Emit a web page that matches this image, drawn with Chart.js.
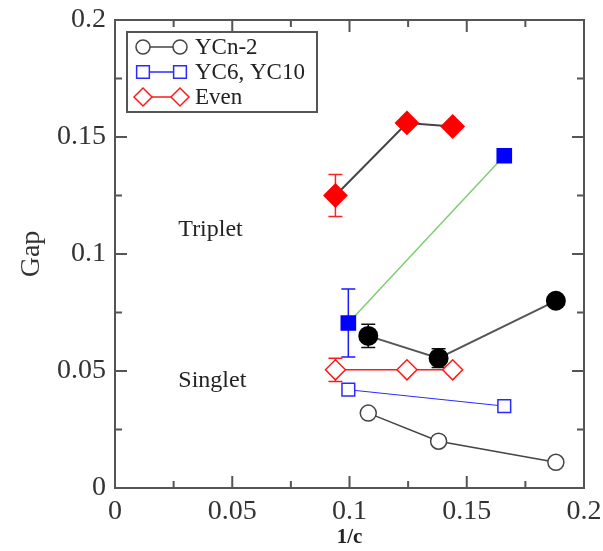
<!DOCTYPE html>
<html>
<head>
<meta charset="utf-8">
<script src="https://cdn.jsdelivr.net/npm/chart.js@4"></script>
<style>
  html, body { margin: 0; padding: 0; background: #fff; }
  #wrap { width: 603px; height: 551px; }
</style>
</head>
<body>
<div id="wrap"><canvas id="gapChart" width="603" height="551"></canvas></div>
<script>
// --- data
const xTicks = [0, 0.05, 0.1, 0.15, 0.2];
const yTicks = [0, 0.05, 0.1, 0.15, 0.2];

// YCn-2 : singlet (open) and triplet (filled)
const ycnX = [0.108, 0.138, 0.188];
const ycnSinglet = [0.032, 0.020, 0.011];
const ycnTriplet = [0.065, 0.0555, 0.080];
const ycnTripletErr = [0.005, 0.004, 0.002];

// YC6, YC10
const yc6X = [0.0995, 0.166];
const yc6Singlet = [0.042, 0.035];
const yc6Triplet = [0.0705, 0.142];
const yc6TripletErr = [0.0145, 0];

// Even
const evenX = [0.094, 0.1245, 0.144];
const evenSinglet = [0.0505, 0.0505, 0.0505];
const evenSingletErr = [0.005, 0, 0];
const evenTriplet = [0.125, 0.156, 0.1545];
const evenTripletErr = [0.009, 0, 0];

const legendLabels = ['YCn-2', 'YC6, YC10', 'Even'];

const pts = (xs, ys) => xs.map((x, i) => ({x: x, y: ys[i]}));
const serif = '"Liberation Serif", "DejaVu Serif", serif';
const textColor = '#333';

// error bars, frame with inward ticks, labels and the legend box
const decor = {
    id: 'decor',
    beforeDatasetsDraw(chart) {
        const ctx = chart.ctx;
        const ys = chart.scales.y;
        chart.data.datasets.forEach((ds, i) => {
            if (!ds.err) return;
            const meta = chart.getDatasetMeta(i);
            ctx.save();
            ctx.strokeStyle = ds.errColor || ds.borderColor;
            ctx.lineWidth = 1.5;
            meta.data.forEach((pt, j) => {
                const e = ds.err[j];
                if (!e) return;
                const v = ds.data[j].y;
                const top = ys.getPixelForValue(v + e);
                const bot = ys.getPixelForValue(v - e);
                ctx.beginPath();
                ctx.moveTo(pt.x, top); ctx.lineTo(pt.x, bot);
                ctx.moveTo(pt.x - 7, top); ctx.lineTo(pt.x + 7, top);
                ctx.moveTo(pt.x - 7, bot); ctx.lineTo(pt.x + 7, bot);
                ctx.stroke();
            });
            ctx.restore();
        });
    },
    afterDraw(chart) {
        const ctx = chart.ctx;
        const {left, right, top, bottom} = chart.chartArea;
        const xs = chart.scales.x, ys = chart.scales.y;
        ctx.save();
        ctx.strokeStyle = '#555';
        ctx.lineWidth = 2;
        ctx.strokeRect(left, top, right - left, bottom - top);
        ctx.beginPath();
        for (let v = 0.025; v < 0.2; v += 0.025) {
            const len = Math.abs((v / 0.05) - Math.round(v / 0.05)) < 1e-6 ? 12 : 7;
            const px = xs.getPixelForValue(v);
            ctx.moveTo(px, bottom); ctx.lineTo(px, bottom - len);
            ctx.moveTo(px, top); ctx.lineTo(px, top + len);
            const py = ys.getPixelForValue(v);
            ctx.moveTo(left, py); ctx.lineTo(left + len, py);
            ctx.moveTo(right, py); ctx.lineTo(right - len, py);
        }
        ctx.stroke();

        // region labels
        ctx.fillStyle = '#222';
        ctx.font = '24px ' + serif;
        ctx.textBaseline = 'middle';
        ctx.textAlign = 'left';
        ctx.fillText('Triplet', xs.getPixelForValue(0.027), ys.getPixelForValue(0.1105));
        ctx.fillText('Singlet', xs.getPixelForValue(0.027), ys.getPixelForValue(0.046));

        // legend box
        const bx = 127, by = 32, bw = 190, bh = 80;
        ctx.fillStyle = '#fff';
        ctx.fillRect(bx, by, bw, bh);
        ctx.strokeStyle = '#555';
        ctx.lineWidth = 2;
        ctx.strokeRect(bx, by, bw, bh);
        const legendSets = chart.data.datasets.filter(d => d.inLegend);
        legendSets.forEach((ds, i) => {
            const y = 47 + i * 25;
            ctx.strokeStyle = ds.borderColor;
            ctx.lineWidth = 1.5;
            ctx.beginPath();
            ctx.moveTo(143, y); ctx.lineTo(180, y);
            ctx.stroke();
            [143, 180].forEach(x => {
                ctx.fillStyle = '#fff';
                ctx.lineWidth = 1.5;
                Chart.helpers.drawPoint(ctx, {
                    pointStyle: ds.pointStyle, radius: ds.legendRadius,
                    rotation: 0, borderWidth: 1.5
                }, x, y);
            });
            ctx.fillStyle = '#222';
            ctx.font = '23px ' + serif;
            ctx.textAlign = 'left';
            ctx.textBaseline = 'middle';
            ctx.fillText(ds.label, 195, y + 1);
        });
        ctx.restore();
    }
};

new Chart(document.getElementById('gapChart'), {
    type: 'scatter',
    data: {
        datasets: [
            {
                label: 'YCn-2 triplet', data: pts(ycnX, ycnTriplet), err: ycnTripletErr,
                showLine: true, borderColor: '#555', borderWidth: 2, errColor: '#111',
                pointStyle: 'circle', pointRadius: 9, pointBackgroundColor: '#000', pointBorderColor: '#000'
            },
            {
                label: 'YC6, YC10 triplet', data: pts(yc6X, yc6Triplet), err: yc6TripletErr,
                showLine: true, borderColor: '#7ccf6f', borderWidth: 1.5, errColor: '#1a1aff',
                pointStyle: 'rect', pointRadius: 10, pointBackgroundColor: '#0000ff', pointBorderColor: '#0000ff'
            },
            {
                label: 'Even triplet', data: pts(evenX, evenTriplet), err: evenTripletErr,
                showLine: true, borderColor: '#444', borderWidth: 2, errColor: '#ff2020',
                pointStyle: 'rectRot', pointRadius: 11, pointBackgroundColor: '#ff0000', pointBorderColor: '#ff0000'
            },
            {
                label: legendLabels[0], inLegend: true, legendRadius: 7,
                data: pts(ycnX, ycnSinglet),
                showLine: true, borderColor: '#444', borderWidth: 1.5,
                pointStyle: 'circle', pointRadius: 8, pointBorderWidth: 1.5,
                pointBackgroundColor: '#fff', pointBorderColor: '#444'
            },
            {
                label: legendLabels[1], inLegend: true, legendRadius: 9,
                data: pts(yc6X, yc6Singlet),
                showLine: true, borderColor: '#2a2aff', borderWidth: 1,
                pointStyle: 'rect', pointRadius: 9, pointBorderWidth: 1.5,
                pointBackgroundColor: '#fff', pointBorderColor: '#2a2aff'
            },
            {
                label: legendLabels[2], inLegend: true, legendRadius: 9,
                data: pts(evenX, evenSinglet), err: evenSingletErr,
                showLine: true, borderColor: '#ff1a1a', borderWidth: 1.5,
                pointStyle: 'rectRot', pointRadius: 10, pointBorderWidth: 1.5,
                pointBackgroundColor: '#fff', pointBorderColor: '#ff1a1a'
            }
        ]
    },
    options: {
        responsive: false,
        animation: false,
        layout: { padding: { top: 20, right: 19, left: 0, bottom: 0 } },
        plugins: { legend: { display: false }, tooltip: { enabled: false } },
        scales: {
            x: {
                type: 'linear', min: 0, max: 0.2,
                afterFit: s => { s.height = 63; s.paddingLeft = 0; s.paddingRight = 0; },
                afterBuildTicks: s => { s.ticks = xTicks.map(v => ({value: v})); },
                grid: { display: false, drawTicks: false },
                border: { display: false },
                ticks: {
                    padding: 7, color: textColor, maxRotation: 0,
                    font: { family: serif, size: 28 },
                    callback: v => String(+v.toFixed(3))
                },
                title: {
                    display: true, text: '1/c', color: '#222',
                    font: { family: serif, size: 21, weight: 'bold' },
                    padding: { top: 0, bottom: 1 }
                }
            },
            y: {
                type: 'linear', min: 0, max: 0.2,
                afterFit: s => { s.width = 115; s.paddingTop = 0; s.paddingBottom = 0; },
                afterBuildTicks: s => { s.ticks = yTicks.map(v => ({value: v})); },
                grid: { display: false, drawTicks: false },
                border: { display: false },
                ticks: {
                    padding: 9, color: textColor,
                    font: { family: serif, size: 28 },
                    callback: v => String(+v.toFixed(3))
                },
                title: {
                    display: true, text: 'Gap', color: '#333',
                    font: { family: serif, size: 28 },
                    padding: { top: 15, bottom: 0 }
                }
            }
        }
    },
    plugins: [decor]
});
</script>
</body>
</html>
